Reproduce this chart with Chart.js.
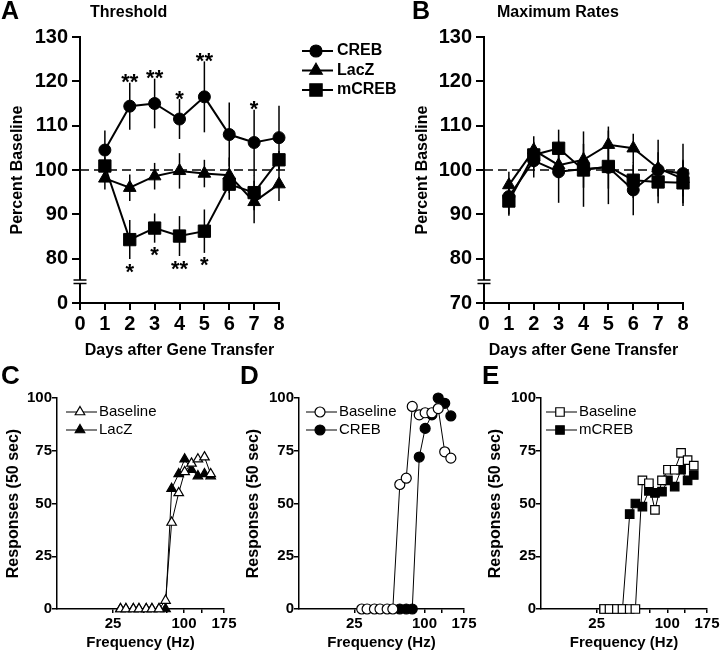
<!DOCTYPE html>
<html>
<head>
<meta charset="utf-8">
<script src="https://cdn.jsdelivr.net/npm/chart.js"></script>
<style>
  body { margin: 0; background: #fff; }
  #figure { position: relative; width: 720px; height: 652px; }
  canvas { position: absolute; }
</style>
</head>
<body>
<div id="figure">
  <canvas id="chartA" width="400" height="360" style="left:0;top:0"></canvas>
  <canvas id="chartB" width="320" height="360" style="left:400px;top:0"></canvas>
  <canvas id="chartC" width="240" height="292" style="left:0;top:360px"></canvas>
  <canvas id="chartD" width="240" height="292" style="left:240px;top:360px"></canvas>
  <canvas id="chartE" width="240" height="292" style="left:480px;top:360px"></canvas>
</div>
<script>
// ---- data ----
const DAYS = [1, 2, 3, 4, 5, 6, 7, 8];
const DAY_TICKS = [0, 1, 2, 3, 4, 5, 6, 7, 8];
const PCT_TICKS = [70, 80, 90, 100, 110, 120, 130];

// A: threshold (percent of baseline, mean and SEM)
const THR_CREB = [104.5, 114.4, 115.0, 111.5, 116.5, 108.0, 106.2, 107.3];
const THR_CREB_SEM = [4.4, 5.3, 5.6, 4.5, 8.0, 7.2, 7.4, 7.2];
const THR_LACZ = [98.1, 96.0, 98.6, 99.8, 99.2, 98.8, 92.8, 96.8];
const THR_LACZ_SEM = [2.5, 3.0, 3.0, 4.0, 3.1, 4.0, 4.8, 3.8];
const THR_MCREB = [100.9, 84.3, 86.9, 85.1, 86.2, 96.8, 94.9, 102.3];
const THR_MCREB_SEM = [2.0, 4.4, 3.3, 4.5, 4.9, 3.5, 4.0, 2.0];
const THR_STARS_CREB = ['', '**', '**', '*', '**', '', '*', ''];
const THR_STARS_MCREB = ['', '*', '*', '**', '*', '', '', ''];

// B: maximum rates
const MAX_CREB = [94.0, 102.1, 99.6, 100.2, 100.6, 95.5, 100.0, 99.2];
const MAX_CREB_SEM = [4.0, 3.8, 7.0, 8.5, 8.3, 5.7, 4.0, 6.7];
const MAX_LACZ = [96.6, 104.5, 101.1, 102.3, 105.7, 104.9, 100.4, 98.0];
const MAX_LACZ_SEM = [3.0, 3.1, 3.0, 3.6, 4.1, 3.3, 6.4, 4.0];
const MAX_MCREB = [93.0, 103.4, 104.9, 100.0, 100.8, 97.7, 97.3, 97.1];
const MAX_MCREB_SEM = [3.3, 3.0, 4.2, 4.0, 5.0, 4.0, 4.8, 5.2];

// C-E: responses in 50 sec vs stimulation frequency
const FREQ = [30, 34, 40, 45, 52, 58, 66, 74, 82, 92, 101, 112, 123, 135, 147];
const FREQ_TICKS = [25, 50, 75, 100, 130, 175];
const FREQ_LABELS = [25, 100, 175];
const RESP_TICKS = [0, 25, 50, 75, 100];
const C_BASELINE = [0, 0, 0, 0, 0, 0, 0, 4, 41, 55, 65, 69, 71, 72, 64];
const C_LACZ = [0, 0, 0, 0, 0, 0, 0, 0, 57, 64, 71, 66, 63, 64, 63];
const D_BASELINE = [0, 0, 0, 0, 0, 0, 59, 62, 96, 92, 93, 93, 95, 74.5, 71.5];
const D_CREB = [null, null, null, null, null, null, 0, 0, 0, 72, 85.6, 92, 100, 97.5, 91.5];
const E_BASELINE = [0, 0, 0, 0, 0, 0, 61, 59.6, 47, 61, 66, 66, 74, 70.6, 68];
const E_MCREB = [0, 0, 0, 0, 45, 50, 48.5, 56, 55, 55.6, 61, 58, 66, 61, 63.5];

// ---- setup ----
const FONT = "'Liberation Sans', Arial, sans-serif";
Chart.defaults.font.family = FONT;
Chart.defaults.color = '#000';

// frequency axis is compressed toward the high end
class PowerScale extends Chart.LinearScale {
  static id = 'power';
  static defaults = {};
  getPixelForValue(value) {
    const p = 0.35, a = Math.pow(this.min, p), b = Math.pow(this.max, p);
    return this.getPixelForDecimal((Math.pow(value, p) - a) / (b - a));
  }
  getValueForPixel(pixel) {
    const p = 0.35, a = Math.pow(this.min, p), b = Math.pow(this.max, p);
    return Math.pow(a + this.getDecimalForPixel(pixel) * (b - a), 1 / p);
  }
}
Chart.register(PowerScale);

const pts = (xs, ys) => xs.map((x, i) => ({ x: x, y: ys[i] }));

function drawText(ctx, text, x, y, font, align) {
  ctx.save();
  ctx.font = font;
  ctx.fillStyle = '#000';
  ctx.textAlign = align || 'left';
  ctx.textBaseline = 'middle';
  ctx.fillText(text, x, y);
  ctx.restore();
}

function drawLegend(ctx, items, lg) {
  items.forEach((it, i) => {
    const y = lg.y0 + i * lg.dy;
    ctx.save();
    ctx.strokeStyle = '#000';
    ctx.lineWidth = lg.lineWidth;
    ctx.beginPath(); ctx.moveTo(lg.x1, y); ctx.lineTo(lg.x2, y); ctx.stroke();
    ctx.fillStyle = it.fill;
    ctx.lineWidth = 1.2;
    Chart.helpers.drawPoint(ctx, { pointStyle: it.style, radius: it.radius, rotation: 0, borderWidth: 1.2 }, lg.xm, y);
    ctx.restore();
    drawText(ctx, it.label, lg.xt, y, lg.font);
  });
}

function axisScale(extra) {
  return Object.assign({
    grid: { drawOnChartArea: false, color: '#000' },
    border: { color: '#000' },
  }, extra);
}

// ---- panels A and B ----
function pctChart(id, o) {
  const sets = [
    { label: 'CREB', vals: o.creb, err: o.crebSem, style: 'circle', radius: 6, order: 3 },
    { label: 'LacZ', vals: o.lacz, err: o.laczSem, style: 'triangle', radius: 7.3, order: 2 },
    { label: 'mCREB', vals: o.mcreb, err: o.mcrebSem, style: 'rect', radius: 8.7, order: 1 },
  ];
  const deco = {
    id: 'deco' + id,
    beforeDatasetsDraw(chart) {
      const ctx = chart.ctx, xs = chart.scales.x, ys = chart.scales.y, a = chart.chartArea;
      ctx.save();
      ctx.strokeStyle = '#000';
      ctx.lineWidth = 1.5;
      ctx.setLineDash([9, 5]);
      ctx.beginPath();
      ctx.moveTo(a.left, ys.getPixelForValue(100));
      ctx.lineTo(a.right + 8, ys.getPixelForValue(100));
      ctx.stroke();
      ctx.setLineDash([]);
      sets.forEach(s => {
        s.vals.forEach((v, i) => {
          const px = xs.getPixelForValue(DAYS[i]);
          ctx.beginPath();
          ctx.moveTo(px, ys.getPixelForValue(v - s.err[i]));
          ctx.lineTo(px, ys.getPixelForValue(v + s.err[i]));
          ctx.stroke();
        });
      });
      ctx.restore();
    },
    afterDraw(chart) {
      const ctx = chart.ctx, xs = chart.scales.x, ys = chart.scales.y, a = chart.chartArea;
      // axis break
      const by = ys.getPixelForValue(74.8);
      ctx.save();
      ctx.fillStyle = '#fff';
      ctx.fillRect(a.left - 2, by - 1.7, 4, 3.4);
      ctx.strokeStyle = '#000';
      ctx.lineWidth = 1.5;
      ctx.beginPath();
      ctx.moveTo(a.left - 6.5, by - 1.7); ctx.lineTo(a.left + 6.5, by - 1.7);
      ctx.moveTo(a.left - 6.5, by + 1.7); ctx.lineTo(a.left + 6.5, by + 1.7);
      ctx.stroke();
      ctx.restore();
      // significance marks
      if (o.starsUp) {
        ctx.save();
        ctx.font = 'bold 22px ' + FONT;
        ctx.textAlign = 'center';
        ctx.textBaseline = 'alphabetic';
        ctx.fillStyle = '#000';
        o.starsUp.forEach((m, i) => {
          if (m) ctx.fillText(m, xs.getPixelForValue(DAYS[i]), ys.getPixelForValue(o.creb[i] + o.crebSem[i]) + 6.5);
        });
        o.starsDown.forEach((m, i) => {
          if (m) ctx.fillText(m, xs.getPixelForValue(DAYS[i]), ys.getPixelForValue(o.mcreb[i] - o.mcrebSem[i]) + 19.5);
        });
        ctx.restore();
      }
      drawText(ctx, o.letter, o.letterX, 12, 'bold 25px ' + FONT);
      drawText(ctx, o.title, o.titleX, 13, 'bold 16px ' + FONT);
      if (o.legend) {
        drawLegend(ctx, sets.map(s => ({ label: s.label, style: s.style, radius: s.radius, fill: '#000' })), o.legend);
      }
    }
  };
  return new Chart(document.getElementById(id), {
    type: 'line',
    data: {
      datasets: sets.map(s => ({
        label: s.label,
        data: pts(DAYS, s.vals),
        order: s.order,
        borderColor: '#000',
        borderWidth: 2,
        pointStyle: s.style,
        pointRadius: s.radius,
        pointBackgroundColor: '#000',
        pointBorderColor: '#000',
        pointBorderWidth: 1,
        tension: 0,
        clip: false,
      }))
    },
    options: {
      responsive: false,
      animation: false,
      events: [],
      layout: { padding: o.padding },
      plugins: { legend: { display: false }, tooltip: { enabled: false } },
      scales: {
        x: axisScale({
          type: 'linear', min: 0, max: 8, bounds: 'data',
          grid: { drawOnChartArea: false, color: '#000', lineWidth: 2, tickLength: 7 },
          border: { color: '#000', width: 2 },
          afterBuildTicks: s => { s.ticks = DAY_TICKS.map(v => ({ value: v })); },
          ticks: { font: { size: 20, weight: 'bold' }, padding: 2, maxRotation: 0, autoSkip: false },
          title: { display: true, text: 'Days after Gene Transfer', font: { size: 16, weight: 'bold' }, padding: 0 },
          afterFit: s => { s.height = 57; s.paddingLeft = 0; s.paddingRight = 0; }
        }),
        y: axisScale({
          type: 'linear', min: 70, max: 130, bounds: 'data',
          grid: { drawOnChartArea: false, color: '#000', lineWidth: 2, tickLength: 8 },
          border: { color: '#000', width: 2 },
          afterBuildTicks: s => { s.ticks = PCT_TICKS.map(v => ({ value: v })); },
          ticks: { font: { size: 20, weight: 'bold' }, padding: 4, callback: o.yLabel },
          title: { display: true, text: 'Percent Baseline', font: { size: 16, weight: 'bold' }, padding: 0 },
          afterFit: s => { s.width = o.yWidth; s.paddingTop = 0; s.paddingBottom = 0; }
        })
      }
    },
    plugins: [deco]
  });
}

pctChart('chartA', {
  creb: THR_CREB, crebSem: THR_CREB_SEM, lacz: THR_LACZ, laczSem: THR_LACZ_SEM,
  mcreb: THR_MCREB, mcrebSem: THR_MCREB_SEM,
  starsUp: THR_STARS_CREB, starsDown: THR_STARS_MCREB,
  yLabel: v => (v === 70 ? '0' : String(v)),
  letter: 'A', letterX: 1, title: 'Threshold', titleX: 90,
  padding: { left: 8, right: 121, top: 37, bottom: 0 }, yWidth: 72,
  legend: { x1: 302, x2: 333, xm: 316, xt: 337, y0: 51, dy: 19.5, lineWidth: 2, font: 'bold 16px ' + FONT }
});

pctChart('chartB', {
  creb: MAX_CREB, crebSem: MAX_CREB_SEM, lacz: MAX_LACZ, laczSem: MAX_LACZ_SEM,
  mcreb: MAX_MCREB, mcrebSem: MAX_MCREB_SEM,
  yLabel: v => String(v),
  letter: 'B', letterX: 12, title: 'Maximum Rates', titleX: 97,
  padding: { left: 13, right: 37, top: 37, bottom: 0 }, yWidth: 71
});

// ---- panels C, D, E ----
function freqChart(id, o) {
  const items = [
    { label: 'Baseline', vals: o.base, fill: '#fff' },
    { label: o.label, vals: o.treat, fill: '#000' },
  ];
  const deco = {
    id: 'deco' + id,
    afterDraw(chart) {
      const ctx = chart.ctx;
      drawText(ctx, o.letter, o.letterX, 17, 'bold 26px ' + FONT);
      drawLegend(ctx, items.map(it => ({ label: it.label, style: o.style, radius: o.radius, fill: it.fill })),
        { x1: 66, x2: 97, xm: 80, xt: 99, y0: 52, dy: 18, lineWidth: 1, font: '15px ' + FONT });
    }
  };
  return new Chart(document.getElementById(id), {
    type: 'line',
    data: {
      datasets: items.map((it, k) => ({
        label: it.label,
        data: pts(FREQ, it.vals),
        order: k,
        borderColor: '#000',
        borderWidth: 1,
        pointStyle: o.style,
        pointRadius: o.radius,
        pointBackgroundColor: it.fill,
        pointBorderColor: '#000',
        pointBorderWidth: 1.2,
        tension: 0,
        spanGaps: false,
        clip: false,
      }))
    },
    options: {
      responsive: false,
      animation: false,
      events: [],
      layout: { padding: o.padding },
      plugins: { legend: { display: false }, tooltip: { enabled: false } },
      scales: {
        x: axisScale({
          type: 'power', min: 3.6, max: 175, bounds: 'data',
          grid: { drawOnChartArea: false, color: '#000', lineWidth: 1.5, tickLength: 4 },
          border: { color: '#000', width: 1.5 },
          afterBuildTicks: s => { s.ticks = FREQ_TICKS.map(v => ({ value: v })); },
          ticks: {
            font: { size: 15, weight: 'bold' }, padding: 2, maxRotation: 0, autoSkip: false,
            callback: v => (FREQ_LABELS.includes(v) ? String(v) : '')
          },
          title: { display: true, text: 'Frequency (Hz)', font: { size: 15, weight: 'bold' }, padding: 0 },
          afterFit: s => { s.height = 43; s.paddingLeft = 0; s.paddingRight = 0; }
        }),
        y: axisScale({
          type: 'linear', min: 0, max: 100, bounds: 'data',
          grid: { drawOnChartArea: false, color: '#000', lineWidth: 1.5, tickLength: 5 },
          border: { color: '#000', width: 1.5 },
          afterBuildTicks: s => { s.ticks = RESP_TICKS.map(v => ({ value: v })); },
          ticks: { font: { size: 15, weight: 'bold' }, padding: 0 },
          title: { display: true, text: 'Responses (50 sec)', font: { size: 16, weight: 'bold' }, padding: 0 },
          afterFit: s => { s.width = o.yWidth; s.paddingTop = 0; s.paddingBottom = 0; }
        })
      }
    },
    plugins: [deco]
  });
}

freqChart('chartC', {
  base: C_BASELINE, treat: C_LACZ, label: 'LacZ', style: 'triangle', radius: 5.5,
  letter: 'C', letterX: 1, padding: { left: 4, right: 16, top: 38, bottom: 0 }, yWidth: 53
});
freqChart('chartD', {
  base: D_BASELINE, treat: D_CREB, label: 'CREB', style: 'circle', radius: 5,
  letter: 'D', letterX: 0, padding: { left: 4, right: 16, top: 38, bottom: 0 }, yWidth: 55
});
freqChart('chartE', {
  base: E_BASELINE, treat: E_MCREB, label: 'mCREB', style: 'rect', radius: 6,
  letter: 'E', letterX: 2, padding: { left: 6, right: 13, top: 38, bottom: 0 }, yWidth: 55
});
</script>
</body>
</html>
